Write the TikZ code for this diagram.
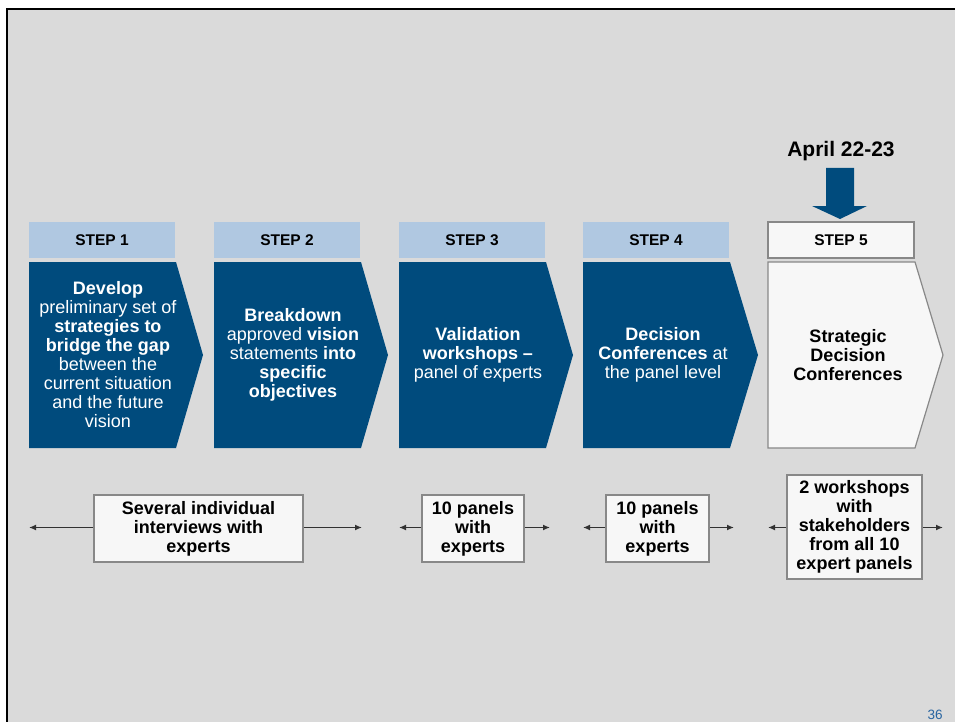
\documentclass[tikz,border=0pt]{standalone}
\usepackage{fontspec}
\setmainfont{Liberation Sans}
\usetikzlibrary{arrows.meta}
\definecolor{bg}{RGB}{218,218,218}
\definecolor{navy}{RGB}{0,75,125}
\definecolor{lblue}{RGB}{176,200,225}
\definecolor{boxfill}{RGB}{247,247,247}
\definecolor{boxline}{RGB}{136,136,136}
\definecolor{arr}{RGB}{50,50,50}
\definecolor{pnum}{RGB}{40,100,160}
\tikzset{
  steplabel/.style={fill=lblue, minimum width=146pt, minimum height=36pt, inner sep=0pt,
    font=\bfseries\fontsize{15.5}{17}\selectfont, text=black},
  chev/.style={fill=navy},
  chevtext/.style={align=center, inner sep=0pt, text=white, font=\fontsize{18}{19}\selectfont},
  infobox/.style={draw=boxline, line width=1.5pt, fill=boxfill, align=center, inner sep=0pt,
    font=\bfseries\fontsize{18}{19}\selectfont, text=black},
  conn/.style={draw=arr, line width=1.8pt, -{Latex[length=7pt,width=6pt]}}
}
\begin{document}
\begin{tikzpicture}[x=1pt,y=-1pt]
\useasboundingbox (0,0) rectangle (955,722);
\fill[white] (0,0) rectangle (955,722);
\fill[bg] (7,9) rectangle (955,722);
\draw[black, line width=2.6pt] (7,722) -- (7,9) -- (955,9);

% step labels
\node[steplabel] (s1) at (102,240) {STEP 1};
\node[steplabel] (s2) at (287,240) {STEP 2};
\node[steplabel] (s3) at (472,240) {STEP 3};
\node[steplabel] (s4) at (656,240) {STEP 4};
\node[steplabel, fill=boxfill, draw=boxline, line width=1.2pt] (s5) at (841,240) {STEP 5};

% chevrons
\fill[chev] (29,262) -- (176,262) -- (203,355) -- (176,448) -- (29,448) -- cycle;
\fill[chev] (214,262) -- (361,262) -- (388,355) -- (361,448) -- (214,448) -- cycle;
\fill[chev] (399,262) -- (546,262) -- (573,355) -- (546,448) -- (399,448) -- cycle;
\fill[chev] (583,262) -- (730,262) -- (758,355) -- (730,448) -- (583,448) -- cycle;
\filldraw[fill=boxfill, draw=boxline, line width=1.2pt] (768,262) -- (915,262) -- (943,355) -- (915,448) -- (768,448) -- cycle;

\node[chevtext] (t1) at (108,355) {\textbf{Develop}\\preliminary set of\\\textbf{strategies to}\\\textbf{bridge the gap}\\between the\\current situation\\and the future\\vision};
\node[chevtext] (t2) at (293,355) {\textbf{Breakdown}\\approved \textbf{vision}\\statements \textbf{into}\\\textbf{specific}\\\textbf{objectives}};
\node[chevtext] (t3) at (478,355) {\textbf{Validation}\\\textbf{workshops –}\\panel of experts};
\node[chevtext] (t4) at (663,355) {\textbf{Decision}\\\textbf{Conferences} at\\the panel level};
\node[chevtext, text=black] (t5) at (848,355) {\textbf{Strategic}\\\textbf{Decision}\\\textbf{Conferences}};

% date arrow
\node[font=\bfseries\fontsize{21}{24}\selectfont] (date) at (841,151) {April 22-23};
\fill[navy] (826,168) -- (854,168) -- (854,206) -- (867,206) -- (840,219) -- (812,206) -- (826,206) -- cycle;

% bottom boxes
\node[infobox, minimum width=209pt, minimum height=67pt] (b1) at (198.5,528.5) {Several individual\\interviews with\\experts};
\node[infobox, minimum width=102pt, minimum height=67pt] (b2) at (473,528.5) {10 panels\\with\\experts};
\node[infobox, minimum width=103pt, minimum height=67pt] (b3) at (657.5,528.5) {10 panels\\with\\experts};
\node[infobox, minimum width=135pt, minimum height=104pt] (b4) at (854.5,527) {2 workshops\\with\\stakeholders\\from all 10\\expert panels};

\coordinate (l1) at (29,527.5);  \coordinate (r1) at (362,527.5);
\coordinate (l2) at (399,527.5); \coordinate (r2) at (550,527.5);
\coordinate (l3) at (583,527.5); \coordinate (r3) at (734,527.5);
\coordinate (l4) at (768,527.5); \coordinate (r4) at (943,527.5);
\draw[conn] (b1.west |- l1) -- (l1);
\draw[conn] (b1.east |- r1) -- (r1);
\draw[conn] (b2.west |- l2) -- (l2);
\draw[conn] (b2.east |- r2) -- (r2);
\draw[conn] (b3.west |- l3) -- (l3);
\draw[conn] (b3.east |- r3) -- (r3);
\draw[conn] (b4.west |- l4) -- (l4);
\draw[conn] (b4.east |- r4) -- (r4);

\node[text=pnum, font=\fontsize{13.5}{15}\selectfont] (pg) at (935,715) {36};
\end{tikzpicture}
\end{document}
